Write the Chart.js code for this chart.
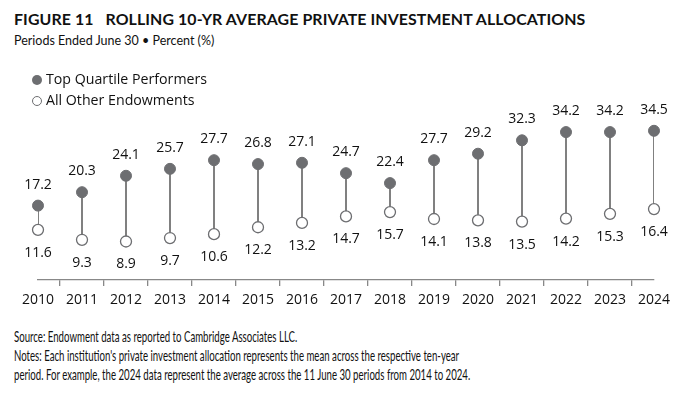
<!DOCTYPE html>
<html>
<head>
<meta charset="utf-8">
<script src="https://cdn.jsdelivr.net/npm/chart.js@4"></script>
<style>
  body { margin: 0; width: 695px; height: 395px; background: #fff; position: relative; font-family: "Open Sans", sans-serif; color: #111; overflow: hidden; }
  #title { position: absolute; left: 14px; top: 9px; font: bold 15.9px Lato, sans-serif; letter-spacing: 0.1px; }
  #subtitle { position: absolute; left: 14px; top: 33px; font: 12.5px Lato, sans-serif; }
  .legend { position: absolute; left: 32px; font: 14.2px "Open Sans", sans-serif; }
  .legend span { display: inline-block; width: 10px; height: 10px; border-radius: 50%; margin-right: 4px; vertical-align: -1px; box-sizing: border-box; }
  #leg1 { top: 69px; }
  #leg2 { top: 90px; }
  #chartBox { position: absolute; left: 0; top: 60px; width: 695px; height: 260px; }
  .note { position: absolute; left: 14px; font: 15px Lato, sans-serif; white-space: nowrap; transform-origin: left center; }
</style>
</head>
<body>
<div id="title">FIGURE 11&nbsp;&nbsp; ROLLING 10-YR AVERAGE PRIVATE INVESTMENT ALLOCATIONS</div>
<div id="subtitle">Periods Ended June 30 • Percent (%)</div>
<div id="chartBox"><canvas id="grafico"></canvas></div>
<div class="legend" id="leg1"><span style="background:#6d6e71"></span>Top Quartile Performers</div>
<div class="legend" id="leg2"><span style="border:1.3px solid #6d6e71;background:#fff"></span>All Other Endowments</div>
<div class="note" style="top:327px">Source: Endowment data as reported to Cambridge Associates LLC.</div>
<div class="note" style="top:346px">Notes: Each institution's private investment allocation represents the mean across the respective ten-year</div>
<div class="note" id="ultimaNota" style="top:365px">period. For example, the 2024 data represent the average across the 11 June 30 periods from 2014 to 2024.</div>

<script>
// Dados do gráfico
const anos = ['2010', '2011', '2012', '2013', '2014', '2015', '2016', '2017', '2018', '2019', '2020', '2021', '2022', '2023', '2024'];
const topQuartil = [17.2, 20.3, 24.1, 25.7, 27.7, 26.8, 27.1, 24.7, 22.4, 27.7, 29.2, 32.3, 34.2, 34.2, 34.5];
const outrasDotacoes = [11.6, 9.3, 8.9, 9.7, 10.6, 12.2, 13.2, 14.7, 15.7, 14.1, 13.8, 13.5, 14.2, 15.3, 16.4];

const cinza = '#6d6e71';

// Notas de rodapé em fonte condensada (escala horizontal)
function ajustarNotas() {
    const larguraAlvo = 456;
    const escala = larguraAlvo / document.getElementById('ultimaNota').offsetWidth;
    document.querySelectorAll('.note').forEach(n => {
        n.style.transform = 'scaleX(' + escala + ')';
    });
}
ajustarNotas();
document.fonts.ready.then(ajustarNotas);

// Rótulos de valor acima/abaixo dos pontos
const rotulosPlugin = {
    id: 'rotulos',
    afterDatasetsDraw(chart) {
        const ctx = chart.ctx;
        ctx.save();
        ctx.font = '14px "Open Sans", sans-serif';
        ctx.fillStyle = '#111';
        ctx.textAlign = 'center';
        ctx.textBaseline = 'middle';
        [0, 1].forEach(i => {
            const meta = chart.getDatasetMeta(i);
            const valores = chart.data.datasets[i].data;
            meta.data.forEach((pt, j) => {
                const dy = i === 0 ? -21 : 23;
                ctx.fillText(valores[j].toFixed(1), pt.x, pt.y + dy);
            });
        });
        ctx.restore();
    }
};

new Chart(document.getElementById('grafico'), {
    type: 'bar',
    data: {
        labels: anos,
        datasets: [
            {
                type: 'line',
                data: topQuartil,
                showLine: false,
                pointRadius: 5.5,
                pointBackgroundColor: cinza,
                pointBorderColor: cinza,
                pointBorderWidth: 1
            },
            {
                type: 'line',
                data: outrasDotacoes,
                showLine: false,
                pointRadius: 5.5,
                pointBackgroundColor: '#fff',
                pointBorderColor: cinza,
                pointBorderWidth: 1.3
            },
            {
                type: 'bar',
                data: anos.map((a, i) => [outrasDotacoes[i], topQuartil[i]]),
                backgroundColor: '#4a4a4a',
                borderWidth: 0,
                inflateAmount: 0,
                barThickness: 1.4
            }
        ]
    },
    options: {
        responsive: true,
        maintainAspectRatio: false,
        animation: false,
        layout: { padding: { top: 47, left: 38, right: 41, bottom: 0 } },
        plugins: {
            legend: { display: false },
            tooltip: { enabled: false }
        },
        scales: {
            x: {
                offset: false,
                afterFit(scale) { scale.height = 40; },
                border: { color: '#888', width: 1.3 },
                grid: { drawOnChartArea: false, drawTicks: true, tickLength: 6, color: '#888', lineWidth: 1.3 },
                ticks: { color: '#111', padding: 6, font: { family: 'Open Sans', size: 14 }, maxRotation: 0 }
            },
            y: {
                display: false,
                min: 0,
                max: 40
            }
        }
    },
    plugins: [rotulosPlugin]
});
</script>
</body>
</html>
